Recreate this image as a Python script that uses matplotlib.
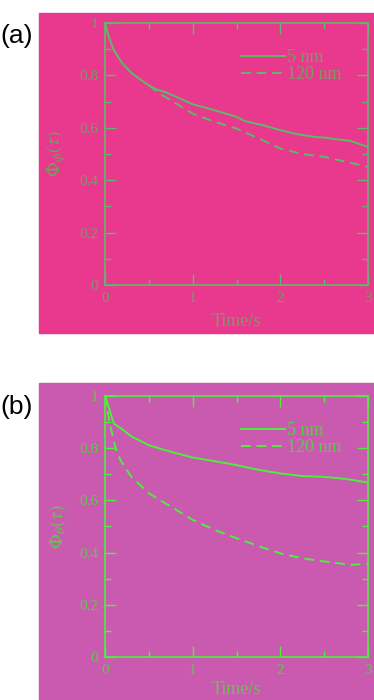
import numpy as np
import matplotlib
matplotlib.use('Agg')
import matplotlib.pyplot as plt
from matplotlib.patches import Rectangle
from matplotlib.ticker import MultipleLocator

plt.rcParams['font.family'] = ['Liberation Serif', 'DejaVu Serif']
plt.rcParams['mathtext.fontset'] = 'stix'

# panel (a)
t_a_solid = [0.0, 0.05, 0.1, 0.2, 0.3, 0.4, 0.5, 0.6, 0.7, 0.8, 0.9, 1.0, 1.2, 1.4, 1.5, 1.6, 1.8, 2.0, 2.2, 2.4, 2.5, 2.6, 2.8, 3.0]
a_5nm = [1.0, 0.94, 0.896, 0.845, 0.81, 0.785, 0.762, 0.745, 0.735, 0.72, 0.705, 0.69, 0.672, 0.652, 0.642, 0.625, 0.61, 0.591, 0.575, 0.565, 0.563, 0.558, 0.55, 0.527]
t_a_dash = [0.5, 0.6, 0.75, 1.0, 1.25, 1.5, 1.75, 2.0, 2.25, 2.5, 2.75, 3.0]
a_120nm = [0.762, 0.735, 0.705, 0.654, 0.623, 0.597, 0.56, 0.521, 0.5, 0.489, 0.47, 0.451]

# panel (b)
t_b_solid = [0.0, 0.1, 0.2, 0.3, 0.5, 0.75, 1.0, 1.25, 1.5, 1.75, 2.0, 2.25, 2.5, 2.75, 3.0]
b_5nm = [1.0, 0.894, 0.871, 0.845, 0.811, 0.786, 0.764, 0.75, 0.735, 0.717, 0.703, 0.693, 0.69, 0.682, 0.668]
t_b_dash = [0.0, 0.05, 0.12, 0.175, 0.3, 0.5, 0.75, 1.0, 1.25, 1.5, 1.75, 2.0, 2.25, 2.5, 2.8, 3.0]
b_120nm = [1.0, 0.9, 0.8, 0.754, 0.69, 0.627, 0.576, 0.525, 0.487, 0.455, 0.425, 0.397, 0.378, 0.366, 0.353, 0.357]

xticks = [0, 1, 2, 3]
yticks = [0, 0.2, 0.4, 0.6, 0.8, 1.0]
yticklabels = ['0', '0.2', '0.4', '0.6', '0.8', '1']

fig = plt.figure(figsize=(3.74, 7.0), dpi=100)


def panel(rect, bg, lc, tc, t1, y1, t2, y2, ylab, tag, bgrect, tagy, xlabpad):
    fig.add_artist(Rectangle((bgrect[0], bgrect[1]), bgrect[2], bgrect[3],
                             transform=fig.transFigure, color=bg, zorder=0))
    ax = fig.add_axes(rect)
    ax.set_facecolor(bg)
    ax.plot(t1, y1, color=lc, lw=1.4, label='5 nm')
    ax.plot(t2, y2, color=lc, lw=1.4, ls=(0, (5, 3)), label='120 nm')
    ax.set_xlim(0, 3)
    ax.set_ylim(0, 1)
    ax.set_xticks(xticks)
    ax.set_xticklabels([str(v) for v in xticks])
    ax.set_yticks(yticks)
    ax.set_yticklabels(yticklabels)
    ax.xaxis.set_minor_locator(MultipleLocator(0.5))
    ax.yaxis.set_minor_locator(MultipleLocator(0.1))
    ax.tick_params(which='both', direction='in', top=True, right=True,
                   color=lc, labelcolor=tc, labelsize=11, pad=5)
    ax.tick_params(which='major', length=8, width=1)
    ax.tick_params(which='minor', length=4, width=1)
    for s in ax.spines.values():
        s.set_color(lc)
        s.set_linewidth(1.2)
    ax.set_xlabel('Time/s', color=tc, fontsize=13, labelpad=xlabpad)
    ax.set_ylabel(ylab, color=tc, fontsize=14, labelpad=8)
    ax.legend(loc='upper right', bbox_to_anchor=(0.9, 0.9), frameon=False,
              fontsize=13, handlelength=2.4, handletextpad=0.15,
              labelspacing=0.0, labelcolor=tc, borderpad=0, borderaxespad=0)
    fig.text(0.0, tagy, tag, fontsize=19, family='Liberation Sans', va='center')
    return ax


panel([0.281, 0.593, 0.703, 0.374], '#e8398f', '#5cbb66', '#7a9c62',
      t_a_solid, a_5nm, t_a_dash, a_120nm, r'$\Phi_{\phi}(\tau)$', '(a)',
      (0.104, 1 - 333 / 700, 1.0, 320 / 700), 1 - 36 / 700, 6)
panel([0.281, 0.0614, 0.703, 0.373], '#c95ab0', '#4cf03c', '#5fc848',
      t_b_solid, b_5nm, t_b_dash, b_120nm, r'$\Phi_{\theta}(\tau)$', '(b)',
      (0.104, 0.0, 1.0, 317 / 700), 1 - 407 / 700, 3)

fig.savefig('out.png', dpi=100)
